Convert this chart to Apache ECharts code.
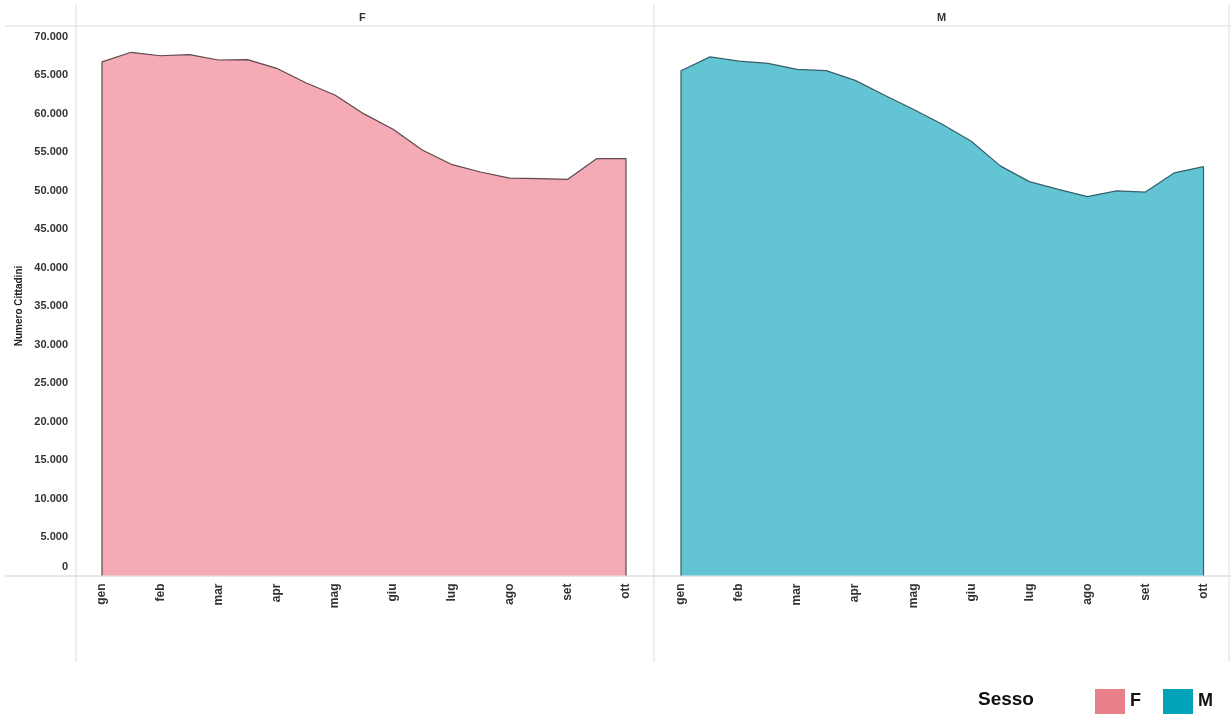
<!DOCTYPE html>
<html>
<head>
<meta charset="utf-8">
<script src="https://cdn.jsdelivr.net/npm/echarts@6/dist/echarts.min.js"></script>
<style>
html,body{margin:0;padding:0;background:#fff;}
#chart{width:1231px;height:715px;}
</style>
</head>
<body>
<div id="chart"></div>
<script>
// ---- data (half-monthly observations, gen → ott) ----
const months = ['gen','feb','mar','apr','mag','giu','lug','ago','set','ott'];
const panels = ['F','M'];
const valuesF = [66700,67950,67500,67650,66950,67000,65870,64000,62400,59950,57950,55250,53400,52400,51600,51550,51450,54150,54150];
const valuesM = [65560,67350,66800,66520,65720,65560,64300,62400,60550,58600,56400,53200,51150,50150,49200,49950,49800,52300,53100];
const yTicks = {min:0, max:70000, interval:5000};
const legendTitle = 'Sesso';
const yTitle = 'Numero Cittadini';

const fmt = v => String(v).replace(/\B(?=(\d{3})+(?!\d))/g, '.');
const toSeries = vals => [[0,0]].concat(vals.map((v,i)=>[i,v])).concat([[vals.length-1,0]]);

const FONT = '"Liberation Sans", Arial, sans-serif';
const chart = echarts.init(document.getElementById('chart'), null, {renderer:'canvas'});

const gridLine = '#dcdcdc';
const option = {
  animation:false,
  textStyle:{fontFamily:FONT},
  grid:[
    {left:102, top:36.5, width:524, height:539},
    {left:681, top:36.5, width:522.5, height:539}
  ],
  xAxis:[0,1].map(g=>({
    type:'value', gridIndex:g, min:0, max:(valuesF.length-1), interval:2,
    axisLine:{show:false}, axisTick:{show:false}, splitLine:{show:false},
    axisLabel:{
      rotate:90, margin:8, fontSize:12, fontWeight:'bold', color:'#333', fontFamily:FONT,
      showMinLabel:true, showMaxLabel:true,
      formatter: v => months[v/2] || ''
    }
  })),
  yAxis:[0,1].map(g=>({
    type:'value', gridIndex:g, min:yTicks.min, max:yTicks.max, interval:yTicks.interval,
    axisLine:{show:false}, axisTick:{show:false}, splitLine:{show:false},
    name: g===0 ? yTitle : '',
    nameLocation:'middle', nameGap:78, nameRotate:90,
    nameTextStyle:{fontSize:10, fontWeight:'bold', color:'#222', fontFamily:FONT},
    axisLabel:{
      show: g===0, margin:34, fontSize:11, fontWeight:'bold', color:'#333', fontFamily:FONT,
      formatter: v => v===0 ? '{z|0}' : fmt(v),
      rich:{z:{fontSize:11, fontWeight:'bold', color:'#333', padding:[0,0,17,0]}}
    }
  })),
  legend:{
    left:1090, top:684, itemWidth:30, itemHeight:25, itemGap:22, icon:'rect',
    textStyle:{fontSize:18, fontWeight:'bold', color:'#111', fontFamily:FONT, padding:[6,0,0,0]},
    selectedMode:false,
    data:[
      {name:'F', itemStyle:{color:'#e8808a', borderWidth:0}},
      {name:'M', itemStyle:{color:'#00a3b8', borderWidth:0}}
    ]
  },
  series:[
    {name:'F', type:'line', xAxisIndex:0, yAxisIndex:0, data:toSeries(valuesF),
     showSymbol:false, silent:true,
     lineStyle:{color:'#5e4a4f', width:1.2},
     itemStyle:{color:'#e8808a'},
     areaStyle:{color:'#f4abb5', opacity:1}},
    {name:'M', type:'line', xAxisIndex:1, yAxisIndex:1, data:toSeries(valuesM),
     showSymbol:false, silent:true,
     lineStyle:{color:'#34606b', width:1.2},
     itemStyle:{color:'#00a3b8'},
     areaStyle:{color:'#63c5d3', opacity:1}}
  ],
  graphic:[
    {type:'line', shape:{x1:5,y1:26,x2:1231,y2:26}, style:{stroke:gridLine, lineWidth:1}, z:-1},
    {type:'line', shape:{x1:5,y1:576,x2:1231,y2:576}, style:{stroke:'#cfcfcf', lineWidth:1}, z:-1},
    {type:'line', shape:{x1:76,y1:5,x2:76,y2:662}, style:{stroke:gridLine, lineWidth:1}, z:-1},
    {type:'line', shape:{x1:654,y1:5,x2:654,y2:662}, style:{stroke:gridLine, lineWidth:1}, z:-1},
    {type:'line', shape:{x1:1229,y1:5,x2:1229,y2:662}, style:{stroke:gridLine, lineWidth:1}, z:-1},
    {type:'text', left:359, top:12, style:{text:panels[0], fill:'#333', font:'bold 11px '+FONT}},
    {type:'text', left:937, top:12, style:{text:panels[1], fill:'#333', font:'bold 11px '+FONT}},
    {type:'text', left:978, top:690, style:{text:legendTitle, fill:'#111', font:'bold 19px '+FONT}}
  ]
};
chart.setOption(option);
</script>
</body>
</html>
